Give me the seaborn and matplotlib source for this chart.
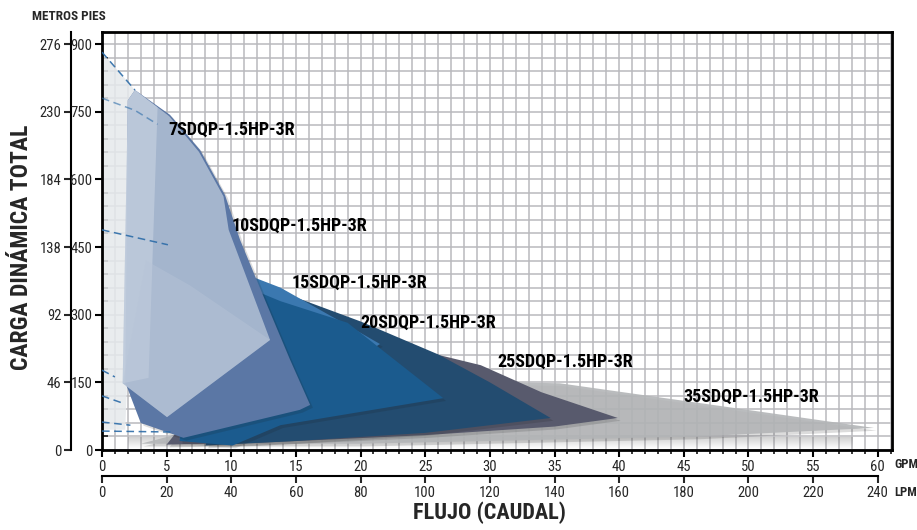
import matplotlib
matplotlib.use("Agg")
import matplotlib.pyplot as plt
import matplotlib.patheffects as pe
from matplotlib import font_manager as fm
import numpy as np
import seaborn as sns

# ejes
gpm_ticks = list(range(0, 61, 5))
lpm_ticks = list(range(0, 241, 20))
pies_ticks = [0, 150, 300, 450, 600, 750, 900]
metros_ticks = [0, 46, 92, 138, 184, 230, 276]

# zonas de operacion (flujo GPM, carga pies), de atras hacia adelante
flujo_franja = [0, 2.55, 2.3, 1.8, 0]
carga_franja = [882, 798, 400, 45, 45]

flujo_35 = [3.0, 22.0, 35.4, 47.0, 59.7, 46.0, 20.0]
carga_35 = [14, 155, 148, 101, 49, 30, 14]

flujo_25 = [14.0, 20.7, 25.0, 29.3, 34.0, 39.9, 35.0, 25.0, 12.0, 5.0]
carga_25 = [340, 250, 218, 188, 128, 71, 52, 33, 16, 12]

flujo_20b = [12.0, 20.0, 26.0, 30.0, 34.7, 25.0, 15.0, 8.0]
carga_20b = [370, 285, 212, 150, 71, 38, 20, 10]

flujo_15 = [9.0, 10.9, 13.8, 19.2, 21.5, 17.0, 11.0, 6.0]
carga_15 = [430, 392, 360, 273, 235, 150, 70, 25]

flujo_20 = [8.0, 10.0, 13.8, 19.0, 26.4, 13.8, 10.1, 6.0]
carga_20 = [360, 375, 330, 282, 115, 55, 10, 20]

flujo_10 = [2.0, 2.55, 5.26, 7.59, 9.52, 10.68, 12.6, 14.55, 16.1, 15.3, 6.3, 3.0, 1.8]
carga_10 = [775, 798, 743, 665, 565, 466, 333, 200, 100, 89, 27, 60, 150]

flujo_7 = [2.0, 2.55, 5.2, 7.5, 9.4, 9.8, 13.0, 5.03, 1.6]
carga_7 = [775, 798, 740, 661, 562, 488, 244, 73, 148]

flujo_brillo = [2.0, 2.55, 4.3, 3.6, 1.6]
carga_brillo = [775, 798, 760, 160, 148]

flujo_pent = [6.8, 13.0, 5.03, 1.6, 3.4]
carga_pent = [365, 244, 73, 148, 420]

# curvas punteadas en el borde izquierdo
punteadas = [
    ([0, 2.55], [882, 798]),
    ([0, 2.55, 4.3], [780, 753, 722]),
    ([0, 5.1], [488, 455]),
    ([0, 1.0], [177, 162]),
    ([0, 1.6], [120, 104]),
    ([0, 2.2], [62, 55]),
    ([0, 5.3], [42, 40]),
]

modelos = ["7SDQP-1.5HP-3R", "10SDQP-1.5HP-3R", "15SDQP-1.5HP-3R",
           "20SDQP-1.5HP-3R", "25SDQP-1.5HP-3R", "35SDQP-1.5HP-3R"]
etiqueta_x = [5.1, 10.06, 14.7, 20.0, 30.6, 45.0]
etiqueta_y = [710, 497, 370, 282, 195, 117]


def buscar_condensada():
    preferidas = ["Roboto Condensed", "Liberation Sans Narrow", "Noto Sans",
                  "Open Sans", "DejaVu Sans", "Noto Sans Condensed", "Open Sans Condensed"]
    angostas = ("condensed", "extra-condensed", "ultra-condensed", "semi-condensed")
    candidatas = []
    for f in fm.fontManager.ttflist:
        st = str(f.stretch)
        if st in angostas or "Condensed" in f.name or "Narrow" in f.name:
            candidatas.append((f.name, st))
    for p in preferidas:
        for nombre, st in candidatas:
            if nombre == p:
                return nombre, st
    if candidatas:
        return candidatas[0]
    return None


sns.set_theme(style="white")
fuente = buscar_condensada()
if fuente is not None:
    plt.rcParams["font.family"] = [fuente[0], "DejaVu Sans"]
    if fuente[1] in ("condensed", "extra-condensed", "ultra-condensed", "semi-condensed"):
        plt.rcParams["font.stretch"] = fuente[1]
    escala = 1.0
else:
    plt.rcParams["font.family"] = ["DejaVu Sans"]
    escala = 0.78

fig = plt.figure(figsize=(9.17, 5.30), dpi=100)
ax = fig.add_axes([0.1112, 0.1509, 0.8615, 0.7887])

# rejilla
ax.set_xticks(np.arange(0, 62, 1), minor=True)
ax.set_yticks(np.arange(0, 930, 30), minor=True)
ax.grid(which="both", color="#b9b9bd", lw=1.1, zorder=0)
ax.set_axisbelow(True)

# sombra inferior
grad = np.zeros((50, 2, 4))
grad[..., :3] = 0.45
grad[..., 3] = np.linspace(0.0, 0.32, 50)[:, None]
ax.imshow(grad, extent=[2, 58, 3, 28], aspect="auto", origin="lower", zorder=1)

sombra = [pe.SimplePatchShadow(offset=(2, -2), shadow_rgbFace="k", alpha=0.15), pe.Normal()]

capas = [
    (flujo_franja, carga_franja, "#e6e9ec", 0.85, False),
    (flujo_35, carga_35, "#b3b5b7", 0.9, True),
    (flujo_25, carga_25, "#585a6d", 1.0, True),
    (flujo_20b, carga_20b, "#234c70", 1.0, True),
    (flujo_15, carga_15, "#3b78b0", 1.0, True),
    (flujo_20, carga_20, "#1b5b8e", 1.0, True),
    (flujo_10, carga_10, "#5b77a5", 1.0, True),
    (flujo_7, carga_7, "#a9b9d0", 0.95, False),
    (flujo_brillo, carga_brillo, "#ffffff", 0.25, False),
    (flujo_pent, carga_pent, "#b7c4d7", 0.45, False),
]
for i, (fx, fy, col, a, sh) in enumerate(capas):
    poly = ax.fill(fx, fy, color=col, alpha=a, lw=0, zorder=2 + i)[0]
    if sh:
        poly.set_path_effects(sombra)

for k, (px, py) in enumerate(punteadas):
    sns.lineplot(x=px, y=py, ax=ax, color="#2c6ca8", lw=1.1,
                 linestyle=(0, (5, 3)), zorder=20, alpha=0.9 if k != 1 else 0.6)

for nombre, tx, ty in zip(modelos, etiqueta_x, etiqueta_y):
    ax.text(tx, ty, nombre, fontsize=13 * escala, fontweight="bold", color="black",
            ha="left", va="center", zorder=30)

ax.set_xlim(0, 61.1)
ax.set_ylim(0, 926.6)
ax.set_xticks(gpm_ticks)
ax.set_xticklabels([str(v) for v in gpm_ticks])
ax.set_yticks(pies_ticks)
ax.set_yticklabels([str(v) for v in pies_ticks])
ax.tick_params(axis="both", which="major", direction="out", length=5, width=1.5,
               labelsize=10.5 * escala, color="black", pad=2, bottom=True, left=True)
ax.tick_params(axis="x", which="minor", direction="out", length=3, width=1.3, bottom=True)
ax.tick_params(axis="y", which="minor", direction="in", length=4, width=1.3, left=True)
for s in ax.spines.values():
    s.set_visible(True)
    s.set_color("black")
    s.set_linewidth(2)
ax.set_xlabel("")
ax.set_ylabel("")

# eje de metros
sec_y = ax.secondary_yaxis(-0.039, functions=(lambda y: y * 276 / 900, lambda m: m * 900 / 276))
sec_y.set_yticks(metros_ticks)
sec_y.set_yticklabels([str(v) for v in metros_ticks])
sec_y.tick_params(direction="out", length=5, width=1.5, labelsize=10.5 * escala, pad=2)
sec_y.spines["left"].set_linewidth(1.5)
sec_y.spines["left"].set_color("black")

# eje de LPM
sec_x = ax.secondary_xaxis(-0.0622, functions=(lambda g: g * 4, lambda l: l / 4))
sec_x.set_xticks(lpm_ticks)
sec_x.set_xticklabels([str(v) for v in lpm_ticks])
sec_x.tick_params(direction="out", length=5, width=1.5, labelsize=10.5 * escala, pad=2)
sec_x.spines["bottom"].set_linewidth(1.5)
sec_x.spines["bottom"].set_color("black")
sec_x.spines["bottom"].set_bounds(0, 240)

fig.text(489 / 917, 1 - 513 / 530, "FLUJO (CAUDAL)", fontsize=16 * escala, fontweight="bold",
         ha="center", va="center")
fig.text(22 / 917, 1 - 247 / 530, "CARGA DINÁMICA TOTAL", fontsize=17 * escala,
         fontweight="bold", ha="center", va="center", rotation=90)
fig.text(32 / 917, 1 - 17 / 530, "METROS PIES", fontsize=9.5 * escala, fontweight="bold",
         ha="left", va="center")
fig.text(894 / 917, 1 - 465 / 530, "GPM", fontsize=9.0 * escala, fontweight="bold",
         ha="left", va="center")
fig.text(894 / 917, 1 - 492 / 530, "LPM", fontsize=9.0 * escala, fontweight="bold",
         ha="left", va="center")

fig.savefig("out.png", dpi=100, facecolor="white")
